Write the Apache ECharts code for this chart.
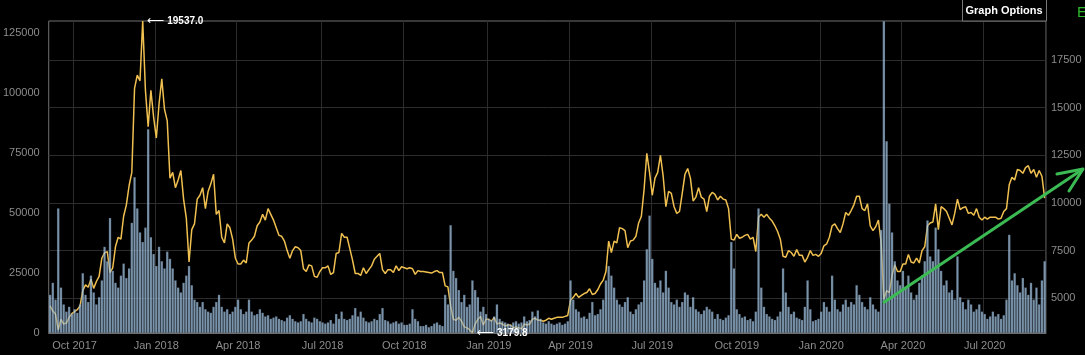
<!DOCTYPE html>
<html>
<head>
<meta charset="utf-8">
<title>Price and volume</title>
<script src="https://cdn.jsdelivr.net/npm/echarts@6/dist/echarts.min.js"></script>
<style>
  html, body { margin: 0; padding: 0; background: #000; }
  #chart { width: 1085px; height: 355px; }
</style>
</head>
<body>
<div id="chart"></div>
<script>
// one point every 3 days starting 6 Sep 2017
const startDate = Date.UTC(2017, 8, 6);
const stepDays = 3;
const monthNames = ['Jan', 'Feb', 'Mar', 'Apr', 'May', 'Jun', 'Jul', 'Aug', 'Sep', 'Oct', 'Nov', 'Dec'];
const volumeTicks = [0, 25000, 50000, 75000, 100000, 125000];
const priceTicks = [5000, 7500, 10000, 12500, 15000, 17500];

const price = [
  4600, 4330, 4170, 3350, 3900, 3650, 3700, 4000, 4200, 4300,
  4400, 4600, 5400, 5700, 5580, 6000, 5520, 5880, 6150, 7100,
  7380, 7450, 6350, 6600, 7700, 8200, 8100, 9300, 9900, 10900,
  11600, 16000, 16700, 16400, 19537, 15900, 14000, 15900, 14500, 13400,
  15200, 16500, 14900, 14300, 11300, 11600, 10800, 11200, 11700, 10200,
  9200, 6900, 8600, 8900, 10200, 10400, 10800, 9700, 10600, 11000,
  11500, 9400, 9600, 8200, 7900, 8900, 8700, 8100, 7100, 6800,
  6800, 7000, 6850, 7900, 8050, 8250, 8800, 9000, 9400, 9100,
  9700, 9400, 9100, 8700, 8300, 8250, 8000, 7500, 7100, 7500,
  7700, 7650, 7500, 6550, 6400, 6750, 6700, 6150, 6100, 6400,
  6600, 6600, 6700, 6250, 6350, 7350, 7400, 8400, 8200, 8200,
  7600, 7000, 6300, 6300, 6200, 6600, 6300, 6500, 6700, 7050,
  7200, 7350, 6500, 6300, 6500, 6500, 6350, 6700, 6450, 6650,
  6600, 6550, 6600, 6550, 6250, 6450, 6400, 6400, 6380, 6350,
  6320, 6400, 6450, 6350, 6350, 5650, 5600, 4600, 3900, 3850,
  4000, 3800, 3500, 3450, 3350, 3179.8, 3650, 3900, 4050, 3600,
  3900, 3900, 3800, 4000, 3650, 3700, 3650, 3550, 3600, 3600,
  3450, 3500, 3450, 3400, 3650, 3600, 3650, 3900, 3950, 3850,
  3850, 3800, 3850, 3950, 3900, 3950, 4000, 4000, 4000, 4050,
  4100, 4900, 5050, 5250, 5050, 5150, 5250, 5300, 5500, 5200,
  5250, 5450, 5750, 5950, 6400, 8000, 7400, 8000, 7900, 8700,
  8650, 8550, 7650, 8000, 8050, 8250, 8950, 9300, 10700, 12600,
  11600, 10400, 11300, 11600, 12500, 11400, 9800, 10600, 10500, 9800,
  9450, 9550, 10500, 11500, 11800, 11300, 10100, 10300, 10800, 10300,
  10200, 9550, 10350, 10550, 10450, 10150, 10350, 10200, 10150, 9700,
  8100, 8050, 8350, 8150, 8200, 8300, 8350, 8100, 8200, 7450,
  9250, 9400, 9250, 9400, 9200, 9050, 8800, 8500, 8100, 7200,
  7150, 7500, 7400, 7200, 7550, 7250, 7250, 6900, 7150, 7500,
  7250, 7300, 7200, 7350, 7750, 7850, 8200, 8800, 8900, 8650,
  8450, 8900, 9500, 9350, 9600, 9900, 10350, 10350, 9700, 9600,
  9950, 8800, 8550, 8750, 9100, 7900, 4950, 5400, 5300, 6200,
  6750, 6400, 6400, 6800, 6800, 7300, 6900, 6850, 7100, 6850,
  7500, 7700, 8800, 8950, 9000, 9950, 8600, 9800, 9700, 9550,
  9200, 8850, 9450, 10200, 9650, 9750, 9800, 9450, 9500, 9350,
  9700, 9250, 9100, 9250, 9150, 9250, 9250, 9250, 9150, 9200,
  9550, 9700, 10950, 11350, 11200, 11750, 11700, 11550, 11850, 11950,
  11550, 11750, 11350, 11700, 11400, 10250
];

const volume = [
  16000, 21000, 14000, 52000, 19000, 12000, 9000, 11000, 8000, 10000,
  8500, 12000, 25000, 16000, 13000, 24000, 17000, 12000, 15000, 22000,
  36000, 30000, 48000, 26000, 21000, 19000, 24000, 29000, 23000, 27000,
  46000, 65000, 52000, 42000, 38000, 44000, 85000, 40000, 33000, 28000,
  36000, 30000, 27000, 34000, 31000, 27000, 22000, 19000, 17000, 21000,
  24000, 28000, 20000, 14000, 13000, 11000, 13000, 10000, 9000, 8500,
  11000, 13000, 16000, 11000, 9000, 10000, 8000, 9000, 11000, 14000,
  10000, 8000, 9000, 14000, 9000, 7500, 8000, 10000, 8500, 7000,
  7500, 6000, 6500, 7000, 6000, 5500, 5000, 6500, 7500, 6000,
  5000, 4500, 5000, 8000, 6000, 5000, 4500, 6500, 6000, 5000,
  4500, 4000, 4500, 5500, 4000, 8000, 6000, 9000, 6000, 5500,
  6000, 7500, 10500, 7000, 9000, 6500, 5000, 4500, 5000, 6000,
  5500, 8000, 10500, 5500, 5000, 4000, 4500, 5000, 4000, 4500,
  3500, 3500, 4000, 10000, 6000, 5000, 3000, 3000, 3500, 2500,
  3000, 4000, 4500, 3500, 3000, 16000, 12000, 45000, 26000, 23000,
  18000, 13000, 16000, 11000, 12000, 22000, 18000, 15000, 9000, 11000,
  8000, 6000, 5500, 7000, 12000, 6000, 5000, 4500, 4000, 3500,
  4500, 5000, 4000, 4500, 7000, 5000, 5500, 9000, 7000, 9500,
  6000, 4500, 4000, 5000, 4000, 3500, 4000, 4500, 3500, 4000,
  5000, 22000, 14000, 10000, 9000, 6500, 7000, 6000, 8500, 13000,
  7500, 8000, 10000, 14000, 22000, 28000, 24000, 19000, 14000, 12000,
  11000, 13000, 15000, 9000, 8000, 10000, 12000, 13000, 22000, 35000,
  49000, 31000, 21000, 19000, 22000, 17000, 26000, 19000, 13000, 12000,
  14000, 11000, 13000, 17000, 16000, 11000, 15000, 10000, 9000, 8000,
  9500, 11000, 10000, 9000, 6000, 8000, 6000, 5500, 6500, 7500,
  38000, 27000, 10000, 8000, 6500, 7000, 5500, 6000, 5000, 9000,
  52000, 19000, 11000, 8000, 7000, 6000, 5500, 7000, 9000, 27000,
  17000, 11000, 8000, 9000, 6500, 6000, 5500, 11000, 22000, 10000,
  5000, 5500, 6000, 9000, 13000, 11000, 9000, 24000, 14000, 10000,
  9000, 12000, 14000, 11000, 13000, 12000, 20000, 16000, 13000, 11000,
  10000, 15000, 12000, 10000, 9000, 43000, 130000, 80000, 54000, 42000,
  30000, 22000, 20000, 26000, 19000, 24000, 17000, 14000, 16000, 21000,
  24000, 30000, 47000, 32000, 30000, 44000, 35000, 26000, 20000, 22000,
  17000, 18000, 14000, 32000, 15000, 13000, 10000, 14000, 12000, 9000,
  10000, 12000, 9000, 8000, 6000, 7000, 9000, 7000, 8000, 6000,
  7500, 14000, 41000, 22000, 25000, 20000, 17000, 23000, 19000, 16000,
  21000, 14000, 19000, 12000, 22000, 30000
];

const categories = [];
for (let i = 0; i < price.length; i++) {
  const d = new Date(startDate + i * stepDays * 86400000);
  categories.push(d.toISOString().slice(0, 10));
}

// label / grid line on the first point of Jan, Apr, Jul, Oct
function quarterStart(idx) {
  if (idx === 0) return false;
  const m = +categories[idx].slice(5, 7) - 1;
  const prev = +categories[idx - 1].slice(5, 7) - 1;
  return m !== prev && m % 3 === 0;
}

function plainNumber(v) {
  return String(Math.round(v));
}

const labelColor = '#8c8c8c';
const gridColor = '#2c2c2c';

const option = {
  backgroundColor: '#000',
  animation: false,
  textStyle: { fontFamily: 'Arial, "Liberation Sans", sans-serif' },
  grid: {
    left: 47, right: 39, top: 21, bottom: 22,
    show: true, borderColor: '#707070', borderWidth: 1
  },
  xAxis: {
    type: 'category',
    data: categories,
    boundaryGap: true,
    axisLine: { lineStyle: { color: '#707070' } },
    axisTick: { show: false },
    axisLabel: {
      color: labelColor, fontSize: 11, margin: 7,
      interval: quarterStart,
      formatter: function (v) {
        return monthNames[+v.slice(5, 7) - 1] + ' ' + v.slice(0, 4);
      }
    },
    splitLine: { show: true, interval: quarterStart, lineStyle: { color: gridColor } }
  },
  yAxis: [
    {
      type: 'value', position: 'left', min: 0, max: 130000,
      axisLine: { show: false },
      axisTick: { show: false, customValues: volumeTicks },
      axisLabel: { customValues: volumeTicks, formatter: plainNumber, color: labelColor, fontSize: 11, margin: 9 },
      splitLine: { show: false }
    },
    {
      type: 'value', position: 'right', min: 3179.8, max: 19537,
      axisLine: { show: false },
      axisTick: { show: false, customValues: priceTicks },
      axisLabel: { customValues: priceTicks, formatter: plainNumber, color: labelColor, fontSize: 11, margin: 5 },
      splitLine: { show: true, lineStyle: { color: gridColor } }
    }
  ],
  series: [
    {
      name: 'Price',
      type: 'line',
      yAxisIndex: 1,
      data: price,
      symbol: 'none',
      z: 1,
      lineStyle: { color: '#f0c050', width: 1.5 },
      markPoint: {
        symbol: 'circle',
        symbolSize: 0,
        data: [{ type: 'max' }, { type: 'min' }],
        label: {
          show: true,
          position: 'right',
          distance: 4,
          formatter: function (p) {
            return '{a|\u27f5} {b|' + Number(p.value).toFixed(1) + '}';
          },
          rich: {
            a: { color: '#fff', fontSize: 12, fontFamily: 'DejaVu Sans' },
            b: { color: '#fff', fontSize: 10, fontWeight: 'bold' }
          }
        }
      }
    },
    {
      name: 'Volume',
      type: 'bar',
      yAxisIndex: 0,
      data: volume,
      z: 2,
      barCategoryGap: '0%',
      itemStyle: {
        color: 'rgba(170,205,235,0.72)',
        borderColor: 'rgba(40,55,70,0.35)',
        borderWidth: 0.5
      }
    }
  ],
  graphic: [
    {
      type: 'rect', z: 100,
      shape: { x: 962.5, y: -1, width: 84, height: 22 },
      style: { fill: '#000', stroke: '#777', lineWidth: 1 }
    },
    {
      type: 'text', z: 101, x: 1004, y: 11,
      style: {
        text: 'Graph Options', fill: '#fff', font: 'bold 11px Arial',
        textAlign: 'center', textVerticalAlign: 'middle'
      }
    },
    {
      type: 'text', z: 101, x: 1077, y: 13,
      style: {
        text: 'E', fill: '#2db82d', font: '15px Arial',
        textAlign: 'left', textVerticalAlign: 'middle'
      }
    },
    {
      type: 'polyline', z: 100,
      shape: { points: [[883, 303], [1083, 169]] },
      style: { stroke: '#3cba54', lineWidth: 3, fill: null }
    },
    {
      type: 'polyline', z: 100,
      shape: { points: [[1057, 174], [1083, 169], [1069, 191]] },
      style: { stroke: '#3cba54', lineWidth: 3, fill: null, lineCap: 'round', lineJoin: 'round' }
    }
  ]
};

const chartObj = echarts.init(document.getElementById('chart'));
chartObj.setOption(option);
window.addEventListener('resize', function () {
  chartObj.resize();
});
</script>
</body>
</html>
